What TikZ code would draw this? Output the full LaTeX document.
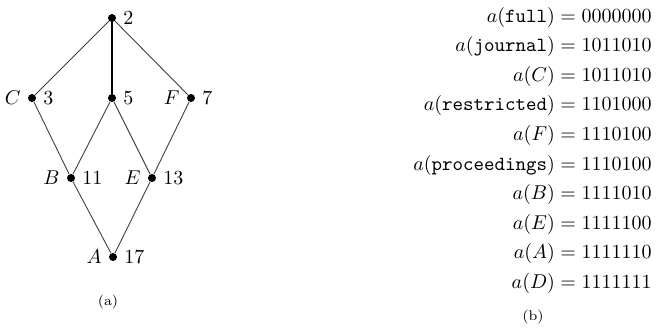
\documentclass[tikz,border=0pt]{standalone}
\usepackage{amsmath}
\usetikzlibrary{positioning}
\tikzset{
	dot/.style = {circle, minimum size = 4pt, inner sep = 0pt, fill = black,
		label distance = 0.5pt},
	lattice/.style = {draw = black!75, line width = 0.45pt},
	code/.style = {anchor = base east, inner sep = 0pt}
}
\newcommand{\enc}[2]{$a(#1) = #2$}

\begin{document}
\begin{tikzpicture}[x=0.5pt, y=-0.5pt]
	\useasboundingbox (0,0) rectangle (658,332);
	% the lattice
	\node (top) [dot, label = right:$2$] at (112,18) {};
	\node (C) [dot, label = left:$C$, label = right:$3$] at (32,98) {};
	\node (mid) [dot, label = right:$5$] at (112,98) {};
	\node (F) [dot, label = left:$F$, label = right:$7$] at (191,98) {};
	\node (B) [dot, label = left:$B$, label = right:$11$] at (71,178) {};
	\node (E) [dot, label = left:$E$, label = right:$13$] at (152,178) {};
	\node (A) [dot, label = left:$A$, label = right:$17$] at (113,257) {};
	\draw [lattice] (top) -- (C);
	\draw [lattice, line width = 0.7pt, black] (top) -- (mid);
	\draw [lattice] (top) -- (F);
	\draw [lattice] (C) -- (B);
	\draw [lattice] (mid) -- (B);
	\draw [lattice] (mid) -- (E);
	\draw [lattice] (F) -- (E);
	\draw [lattice] (B) -- (A);
	\draw [lattice] (E) -- (A);
	\node (capa) at (108,302) {\scriptsize (a)};

	% the encodings
	\node (full) [code] at (652,22) {\enc{\texttt{full}}{0000000}};
	\node (journal) [below = 14.8pt of full.base east, code] {\enc{\texttt{journal}}{1011010}};
	\node (encC) [below = 14.8pt of journal.base east, code] {\enc{C}{1011010}};
	\node (restricted) [below = 14.8pt of encC.base east, code] {\enc{\texttt{restricted}}{1101000}};
	\node (encF) [below = 14.8pt of restricted.base east, code] {\enc{F}{1110100}};
	\node (proceedings) [below = 14.8pt of encF.base east, code] {\enc{\texttt{proceedings}}{1110100}};
	\node (encB) [below = 14.8pt of proceedings.base east, code] {\enc{B}{1111010}};
	\node (encE) [below = 14.8pt of encB.base east, code] {\enc{E}{1111100}};
	\node (encA) [below = 14.8pt of encE.base east, code] {\enc{A}{1111110}};
	\node (encD) [below = 14.8pt of encA.base east, code] {\enc{D}{1111111}};
	\node (capb) at (533,317) {\scriptsize (b)};
\end{tikzpicture}
\end{document}
